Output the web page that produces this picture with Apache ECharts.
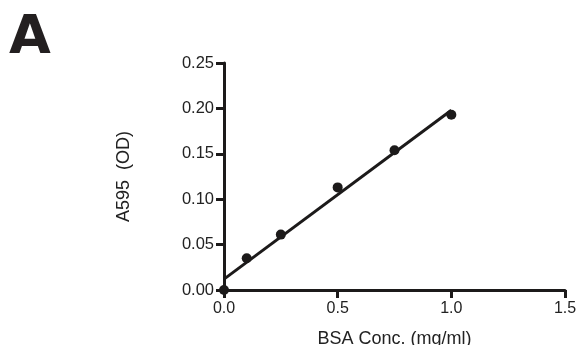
<!DOCTYPE html>
<html>
<head>
<meta charset="utf-8">
<script src="https://cdn.jsdelivr.net/npm/echarts@6/dist/echarts.min.js"></script>
<style>
  html, body { margin: 0; padding: 0; background: #fff; }
  #chart { width: 577px; height: 345px; }
</style>
</head>
<body>
<div id="chart"></div>
<script>
// Données
const bsaConc = [0, 0.1, 0.25, 0.5, 0.75, 1.0];
const a595 = [0, 0.035, 0.061, 0.113, 0.154, 0.193];
// Droite de régression (extrémités)
const fitX = [0, 1.0];
const fitY = [0.012, 0.198];
const xTicks = [0, 0.5, 1.0, 1.5];
const yTicks = [0, 0.05, 0.10, 0.15, 0.20, 0.25];

const ink = '#1c1a1a';
const font = 'Liberation Sans, Arial, sans-serif';

function axisStyle() {
    return {
        axisLine: { show: true, onZero: false, lineStyle: { color: ink, width: 3 } },
        axisTick: { show: true, inside: false, length: 8, lineStyle: { color: ink, width: 3 } },
        splitLine: { show: false }
    };
}

const dom = document.getElementById('chart');
const myChart = echarts.init(dom);

myChart.setOption({
    animation: false,
    grid: { left: 224, right: 12, top: 63, bottom: 55, containLabel: false, outerBoundsMode: 'none' },
    graphic: [
        {
            type: 'text',
            left: 9,
            top: 12,
            style: { text: 'A', font: 'bold 54px DejaVu Sans, sans-serif', fill: '#231f20' }
        }
    ],
    xAxis: Object.assign({
        type: 'value',
        min: xTicks[0],
        max: xTicks[xTicks.length - 1],
        interval: 0.5,
        name: 'BSA Conc. (mg/ml)',
        nameLocation: 'middle',
        nameGap: 40,
        nameTextStyle: { color: '#222', fontSize: 18, fontFamily: font },
        axisLabel: {
            color: '#222', fontSize: 16, fontFamily: font, margin: 11,
            formatter: v => v.toFixed(1)
        }
    }, axisStyle()),
    yAxis: Object.assign({
        type: 'value',
        min: yTicks[0],
        max: yTicks[yTicks.length - 1],
        interval: 0.05,
        name: 'A595  (OD)',
        nameLocation: 'middle',
        nameGap: 91,
        nameTextStyle: { color: '#222', fontSize: 18, fontFamily: font },
        axisLabel: {
            color: '#222', fontSize: 16.5, fontFamily: font, margin: 10,
            formatter: v => v.toFixed(2)
        }
    }, axisStyle()),
    series: [
        {
            type: 'line',
            data: fitX.map((x, i) => [x, fitY[i]]),
            showSymbol: false,
            symbol: 'none',
            lineStyle: { color: ink, width: 3 },
            z: 2
        },
        {
            type: 'scatter',
            data: bsaConc.map((x, i) => [x, a595[i]]),
            symbol: 'circle',
            symbolSize: 10,
            itemStyle: { color: ink, opacity: 1 },
            clip: false,
            z: 3
        }
    ]
});
</script>
</body>
</html>
